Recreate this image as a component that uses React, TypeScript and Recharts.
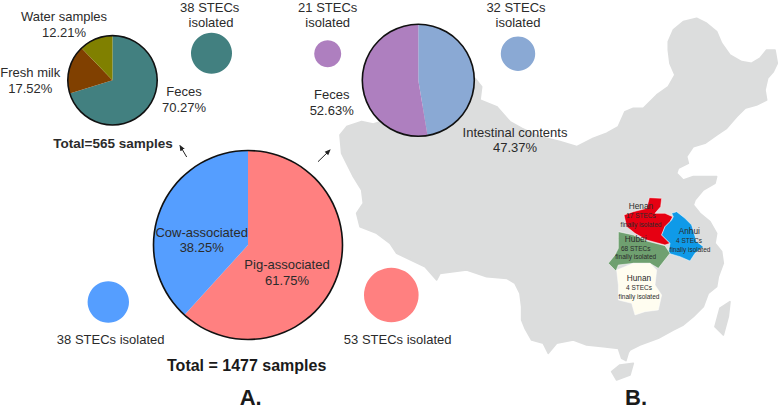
import { Cell, Pie, PieChart } from 'recharts';

const WIDTH = 778;
const HEIGHT = 410;
const FONT = '"Liberation Sans", Arial, sans-serif';

// percentages
const sourceNames = ['Pig-associated', 'Cow-associated'];
const sourceValues = [61.75, 38.25];
const sourceColors = ['#ff8080', '#559eff'];

const cowNames = ['Feces', 'Fresh milk', 'Water samples'];
const cowValues = [70.27, 17.52, 12.21];
const cowColors = ['#428080', '#804000', '#808000'];

const pigNames = ['Intestinal contents', 'Feces'];
const pigValues = [47.37, 52.63];
const pigColors = ['#8aa9d4', '#ae7fbf'];

// isolate bubbles, one slice each
const bubbleCounts = [38, 21, 32, 38, 53];
const bubbleColors = ['#428080', '#ae7fbf', '#8aa9d4', '#559eff', '#ff8080'];
const bubbleCx = [211.5, 327.7, 518, 108.3, 391.3];
const bubbleCy = [53.3, 53.7, 53.7, 302, 295];
const bubbleRadius = [20.5, 13.5, 17.2, 20.7, 27.3];

// map outlines, in zoomed picture units (see the group transforms below)
const chinaOutline =
  '5,460 0,405 20,380 65,365 100,372 230,330 405,235 425,260 420,300 470,320 510,365 545,385 600,410 660,425 710,440 760,415 800,400 835,380 855,335 880,325 910,325 950,285 985,260 1005,225 990,190 985,150 985,125 1000,90 1030,65 1070,55 1100,70 1130,95 1145,130 1170,165 1205,185 1235,190 1260,175 1280,150 1305,150 1312,190 1300,215 1283,235 1275,270 1280,300 1250,315 1215,325 1190,350 1160,385 1130,405 1095,430 1060,440 1040,470 1045,490 1015,505 1010,520 1030,540 1060,530 1100,530 1130,530 1125,550 1090,570 1065,600 1060,615 1080,640 1110,665 1130,700 1125,730 1145,755 1150,790 1135,830 1130,860 1105,880 1090,920 1060,950 1030,975 1000,990 955,1015 900,1035 870,1050 865,1058 858,1082 845,1075 835,1045 790,1040 740,1035 700,1020 650,1030 625,1060 610,1030 575,1020 555,985 545,960 545,920 540,880 525,850 500,835 440,830 380,810 300,820 290,840 255,800 170,760 150,730 110,700 60,680 50,640 70,610 65,570 40,530';
const hainanOutline = '815,1115 840,1095 880,1090 870,1125 830,1140';
const taiwanOutline = '1125,980 1140,925 1170,905 1165,950 1150,1005';

const provinceShapes = [
  { fill: '#e60012', points: '102,90 130,80 170,70 178,38 215,40 212,65 195,85 225,85 248,95 240,110 225,125 215,150 240,175 225,180 170,165 135,145 110,125' },
  { fill: '#0f9ae8', points: '245,85 260,80 285,100 305,120 320,170 340,185 315,205 300,228 270,215 235,205 240,175 215,150 225,125 245,105 250,95' },
  { fill: '#6fa070', points: '85,140 130,150 170,168 225,182 240,205 205,250 180,235 130,235 85,240 78,258 55,235 75,210 85,190 85,160' },
  { fill: '#fffdf0', points: '80,255 130,235 180,235 200,255 195,300 215,330 205,375 165,380 135,390 125,355 85,345 85,300' },
];

// [text, x, y, size, weight]
const labels: Array<[string, number, number, number, number]> = [
  ['Water samples', 64, 20.7, 13, 400],
  ['12.21%', 64, 36.5, 13, 400],
  ['Fresh milk', 30.3, 76.7, 13, 400],
  ['17.52%', 30.3, 93, 13, 400],
  ['Feces', 184, 96, 13, 400],
  ['70.27%', 184, 111.7, 13, 400],
  ['38 STECs', 209.7, 11.8, 13, 400],
  ['isolated', 211, 27, 13, 400],
  ['21 STECs', 327.7, 11.8, 13, 400],
  ['isolated', 327.7, 27, 13, 400],
  ['32 STECs', 516, 11.8, 13, 400],
  ['isolated', 518, 27, 13, 400],
  ['Feces', 331.7, 99, 13, 400],
  ['52.63%', 331.7, 115, 13, 400],
  ['Intestinal contents', 515, 136.7, 13, 400],
  ['47.37%', 515, 152.3, 13, 400],
  ['Total=565 samples', 113, 148, 13.5, 700],
  ['Cow-associated', 201.7, 236.7, 13, 400],
  ['38.25%', 201.7, 251.7, 13, 400],
  ['Pig-associated', 287, 269.3, 13, 400],
  ['61.75%', 287, 285, 13, 400],
  ['38 STECs isolated', 110.7, 344, 13, 400],
  ['53 STECs isolated', 397.7, 344, 13, 400],
  ['Total = 1477 samples', 246.7, 371.3, 16, 700],
  ['A.', 250.7, 405.4, 22, 700],
  ['B.', 636, 405.4, 22, 700],
  ['Henan', 641, 209, 8.3, 400],
  ['17 STECs', 641, 218, 6.5, 400],
  ['finally isolated', 641, 226.7, 6.5, 400],
  ['Anhui', 689.3, 234.3, 8.3, 400],
  ['4 STECs', 689, 243.3, 6.5, 400],
  ['finally isolated', 690, 251.7, 6.5, 400],
  ['Hubei', 635.7, 241.7, 8.3, 400],
  ['68 STECs', 635.7, 250.7, 6.5, 400],
  ['finally isolated', 635.7, 259.3, 6.5, 400],
  ['Hunan', 639, 281.3, 8.3, 400],
  ['4 STECs', 639, 290.3, 6.5, 400],
  ['finally isolated', 639, 299, 6.5, 400],
];

const layerStyle = { position: 'absolute', left: 0, top: 0 } as const;

function toRows(names: string[], values: number[]) {
  return names.map((name, i) => ({ name, value: values[i] }));
}

// a filled pie plus a thin black ring, so slices have no dividing lines
function outlinedPie(key: string, rows: { name: string; value: number }[], colors: string[], cx: number, cy: number, r: number) {
  return [
    <Pie
      key={key}
      data={rows}
      dataKey="value"
      cx={cx}
      cy={cy}
      outerRadius={r}
      startAngle={90}
      endAngle={-270}
      stroke="none"
      isAnimationActive={false}
    >
      {rows.map((row, i) => (
        <Cell key={row.name} fill={colors[i]} />
      ))}
    </Pie>,
    <Pie
      key={`${key}-ring`}
      data={[{ name: 'ring', value: 1 }]}
      dataKey="value"
      cx={cx}
      cy={cy}
      innerRadius={r - 0.8}
      outerRadius={r + 0.8}
      startAngle={90}
      endAngle={-270}
      fill="#111111"
      stroke="none"
      isAnimationActive={false}
    />,
  ];
}

export default function App() {
  return (
    <div style={{ ...layerStyle, width: WIDTH, height: HEIGHT, background: '#fff', overflow: 'hidden' }}>
      <svg width={WIDTH} height={HEIGHT} style={layerStyle}>
        <g transform="translate(340 0) scale(0.3333)" fill="#dcdddd" stroke="#dcdddd" strokeWidth={5} strokeLinejoin="round">
          <polygon points={chinaOutline} />
          <polygon points={hainanOutline} />
          <polygon points={taiwanOutline} />
        </g>
        <g transform="translate(590 185) scale(0.3333)">
          {provinceShapes.map(shape => (
            <polygon
              key={shape.fill}
              points={shape.points}
              fill={shape.fill}
              stroke="#ffffff"
              strokeWidth={1.5}
              strokeLinejoin="round"
            />
          ))}
        </g>
      </svg>

      <div style={layerStyle}>
        <PieChart width={WIDTH} height={HEIGHT} margin={{ top: 0, right: 0, bottom: 0, left: 0 }}>
          {outlinedPie('source', toRows(sourceNames, sourceValues), sourceColors, 248, 245, 94.5)}
          {outlinedPie('cow', toRows(cowNames, cowValues), cowColors, 112.5, 80.3, 44.7)}
          {outlinedPie('pig', toRows(pigNames, pigValues), pigColors, 418.3, 80.3, 56)}
          {bubbleCounts.map((count, i) => (
            <Pie
              key={`bubble-${i}`}
              data={[{ name: 'STECs isolated', value: count }]}
              dataKey="value"
              cx={bubbleCx[i]}
              cy={bubbleCy[i]}
              outerRadius={bubbleRadius[i]}
              startAngle={90}
              endAngle={-270}
              fill={bubbleColors[i]}
              stroke="none"
              isAnimationActive={false}
            />
          ))}
        </PieChart>
      </div>

      <svg width={WIDTH} height={HEIGHT} style={{ ...layerStyle, pointerEvents: 'none' }}>
        <defs>
          <marker id="head" markerWidth="6" markerHeight="6" refX="5" refY="3" orient="auto">
            <path d="M0,0.5 L6,3 L0,5.5 Z" fill="#222222" />
          </marker>
        </defs>
        <line x1={186.7} y1={157} x2={180} y2={145.7} stroke="#222222" strokeWidth={1} markerEnd="url(#head)" />
        <line x1={318} y1={161.7} x2={330} y2={150} stroke="#222222" strokeWidth={1} markerEnd="url(#head)" />
        {labels.map(([text, x, y, size, weight], i) => (
          <text
            key={`${text}-${i}`}
            x={x}
            y={y}
            fontSize={size}
            fontWeight={weight}
            fontFamily={FONT}
            textAnchor="middle"
            fill={size >= 15 ? '#1a1a1a' : '#2b2b2b'}
          >
            {text}
          </text>
        ))}
      </svg>
    </div>
  );
}
